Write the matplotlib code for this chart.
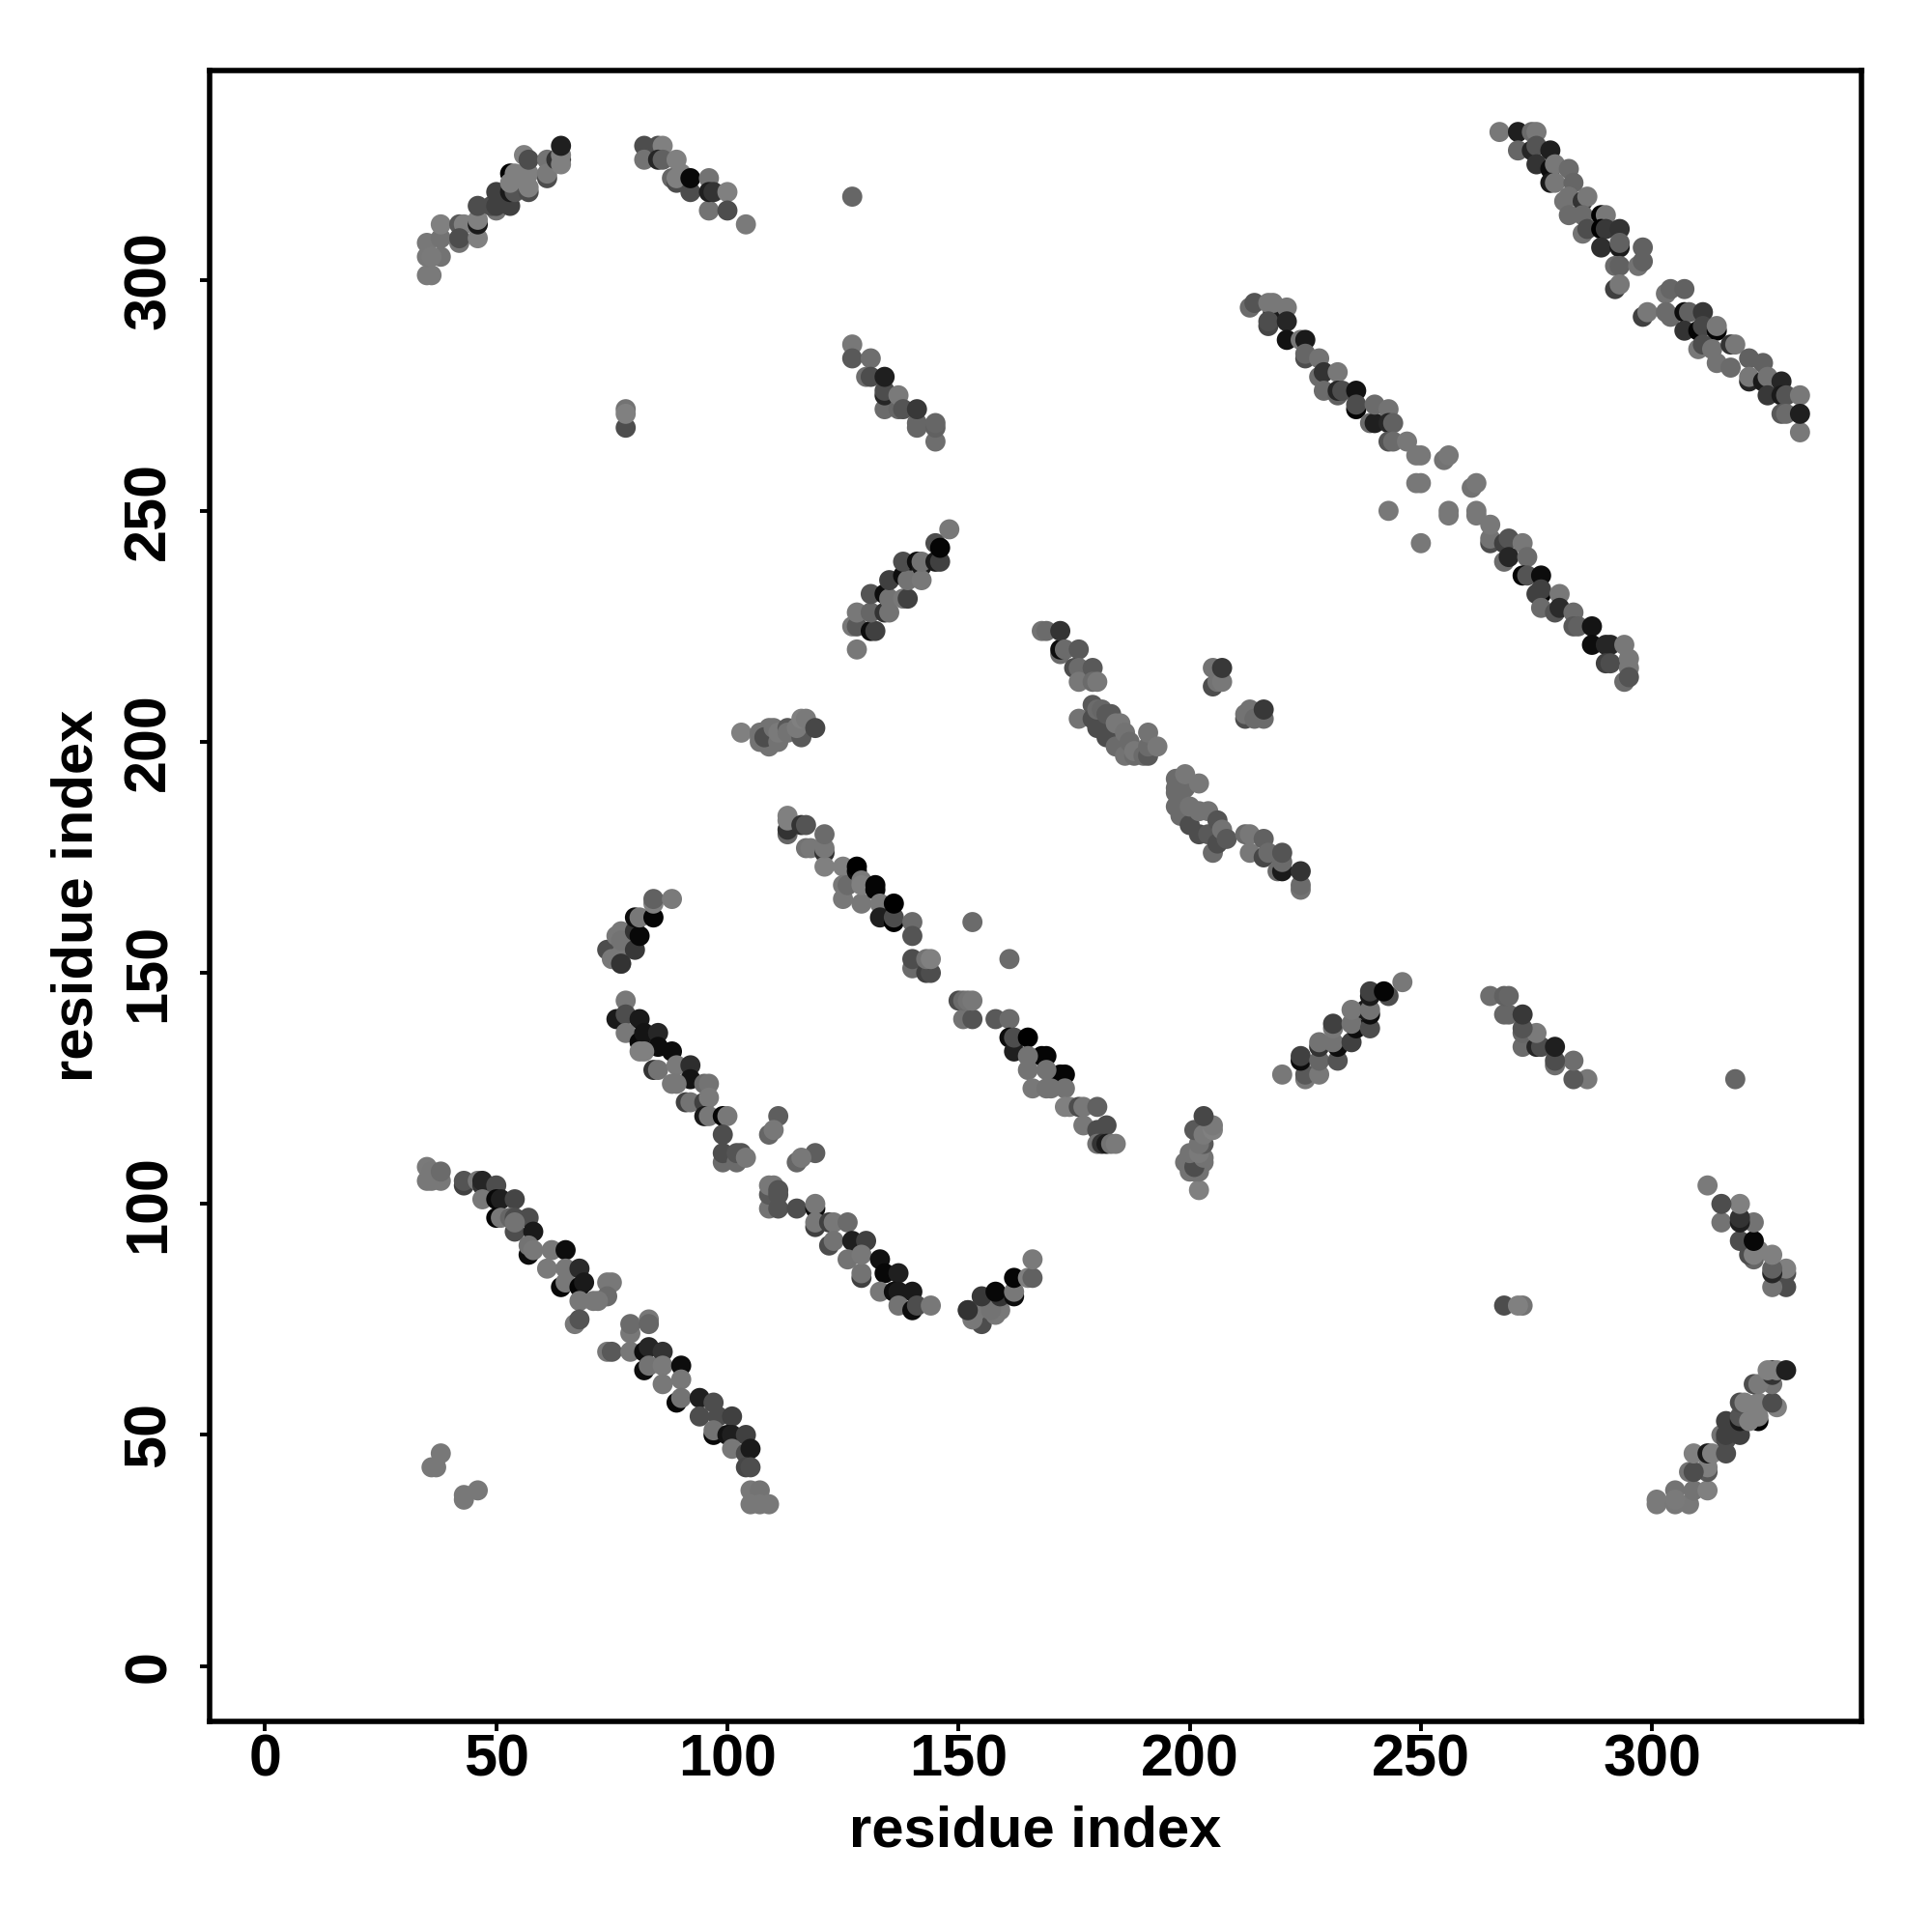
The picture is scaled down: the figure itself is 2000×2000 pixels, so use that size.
import matplotlib
matplotlib.use("Agg")
import matplotlib.pyplot as plt

# contacts as (residue i, residue j, grey level)
# groups that get mirrored across the diagonal
helix_top_left = [
    (35,301,.48),(36,301,.48),(35,305,.47),(35,308,.47),(38,305,.45),(36,305,.48),(38,309,.45),(38,312,.5),
    (42,312,.35),(43,312,.5),(42,308,.45),(42,309,.3),(46,309,.5),(46,312,.1),(46,313,.5),(46,316,.3),
    (50,315,.45),(49,316,.3),(50,316,.25),(53,316,.25),(50,319,.25),(53,319,.1),(54,319,.33),(53,323,.0),
    (53,321,.5),(54,323,.5),(57,319,.3),(57,320,.5),(57,323,.5),(56,323,.5),(56,327,.5),(57,326,.3),
    (61,326,.45),(61,322,.3),(61,323,.48),(63,326,.2),(64,326,.2),(64,325,.5),(64,327,.5),(64,329,.12),
]
strand_top = [
    (82,329,.3),(82,326,.45),(85,329,.3),(86,329,.5),(85,326,.15),(86,326,.38),(88,322,.4),(89,321,.3),
    (89,326,.5),(89,322,.5),(90,323,.5),(92,319,.3),(92,322,.03),(96,322,.45),(96,315,.45),(96,319,.12),
    (97,319,.2),(100,319,.5),(100,315,.3),(104,312,.48),
]
single_contacts = [
    (127,318,.4),(78,268,.3),(78,272,.45),(78,271,.5),(38,46,.47),(36,43,.47),(37,43,.47),
]
strand_mid = [
    (127,286,.47),(127,283,.35),(131,283,.43),(130,279,.43),(131,279,.3),(134,272,.42),(134,275,.15),(134,276,.3),
    (134,279,.12),(137,272,.4),(137,275,.48),(138,272,.33),(141,268,.4),(141,269,.4),(141,272,.22),
    (145,265,.43),(145,268,.38),(145,269,.4),
]
helix_mid = [
    (128,220,.47),(127,225,.47),(128,225,.35),(128,228,.47),(131,224,.05),(132,224,.25),(131,228,.4),(134,228,.2),
    (135,228,.45),(131,232,.33),(134,232,.05),(135,231,.45),(138,231,.47),(139,231,.25),(135,235,.25),(138,236,.05),
    (139,235,.45),(138,239,.3),(141,239,.05),(142,238,.1),(142,235,.47),(142,239,.45),(145,239,.1),(146,239,.25),
    (145,243,.3),(146,242,.02),(148,246,.47),
]
short_run_200 = [
    (103,202,.5),(107,202,.45),(107,201,.45),(107,200,.45),(109,203,.45),(109,199,.45),(108,201,.3),(110,203,.45),
    (111,200,.45),(111,202,.48),(113,203,.35),(113,202,.45),(116,201,.35),(115,203,.48),(116,205,.5),(117,205,.48),
    (119,203,.28),
]
helix_150 = [
    (74,155,.3),(77,152,.45),(75,153,.47),(77,154,.47),(77,152,.2),(76,158,.47),(77,159,.47),(77,157,.45),
    (80,155,.22),(80,159,.2),(81,158,.03),(80,162,.05),(81,162,.47),(84,162,.02),(84,165,.5),(84,166,.38),(88,166,.48),
]

# groups already on both sides of the diagonal
antidiag_113_184 = [
    (113,180,.4),(113,181,.2),(113,183,.5),(113,184,.5),(116,182,.2),(117,177,.45),(118,177,.47),(117,182,.33),
    (121,176,.2),(121,173,.5),(121,177,.47),(121,180,.42),(125,166,.47),(125,173,.5),(125,169,.47),(126,169,.42),
    (128,172,.03),(128,173,.0),(129,165,.47),(129,170,.48),(129,169,.5),(132,168,.02),(132,169,.02),(133,165,.48),
    (133,162,.12),(136,161,.0),(136,162,.3),(136,165,.0),(140,161,.42),(140,158,.33),(140,151,.42),(140,153,.3),
    (143,150,.25),(144,150,.3),(143,153,.45),(144,153,.5),(153,161,.42),(161,153,.42),
    (150,144,.3),(151,140,.45),(153,140,.33),(151,144,.42),(152,144,.45),(153,144,.47),(158,140,.35),(161,140,.42),
    (161,136,.05),(162,133,.12),(162,136,.3),(165,136,.0),(168,132,.0),(169,132,.02),(165,132,.45),(165,129,.45),
    (172,128,.0),(173,128,.02),(169,129,.45),(166,125,.47),(169,125,.45),(170,125,.45),(173,125,.45),
    (173,121,.5),(174,121,.5),(176,121,.3),(177,121,.47),(180,121,.38),(177,117,.47),(182,117,.3),(180,116,.3),
    (180,113,.45),(181,113,.2),(182,113,.1),(183,113,.45),(184,113,.48),
]
antidiag_78_144 = [
    (78,144,.47),(76,140,.1),(78,141,.3),(81,140,.1),(78,137,.47),(81,135,.03),(82,137,.08),(85,137,.15),
    (85,134,.05),(88,133,.05),(81,133,.5),(82,133,.5),(84,129,.2),(85,129,.45),(89,130,.48),(92,130,.18),
    (92,127,.08),(88,126,.47),(89,126,.47),(95,126,.42),(91,122,.25),(92,122,.45),(96,126,.45),(95,122,.25),
    (96,123,.48),(95,119,.1),(96,119,.47),(99,119,.02),(100,119,.47),(99,115,.3),(99,109,.42),(99,111,.3),
    (102,109,.42),(102,111,.33),(103,111,.33),(104,110,.47),(111,119,.37),(109,115,.4),(110,116,.47),(119,111,.37),
    (115,109,.4),(116,110,.47),(109,99,.45),(109,102,.35),(109,104,.47),(110,104,.47),(111,102,.33),(111,103,.33),
    (111,99,.33),(115,99,.3),(119,99,.05),(119,100,.47),(119,95,.25),(119,96,.47),(122,91,.3),(122,96,.25),
    (123,96,.47),(123,92,.45),(126,96,.42),(127,92,.12),(130,92,.25),(126,88,.45),(129,84,.25),(129,85,.45),
    (129,89,.47),(133,88,.07),(134,85,.03),(137,85,.12),(133,81,.47),(136,81,.05),(137,81,.1),(140,81,.1),
    (137,78,.45),(140,77,.05),(141,78,.3),(144,78,.47),
]
antidiag_35_109 = [
    (35,108,.48),(35,105,.47),(36,107,.47),(36,105,.47),(38,105,.47),(38,107,.42),(43,104,.25),(43,105,.33),
    (46,105,.47),(47,104,.2),(47,105,.15),(50,104,.3),(47,101,.47),(50,101,.03),(51,101,.12),(54,101,.27),
    (50,97,.02),(51,97,.47),(54,94,.3),(53,97,.4),(57,97,.3),(54,97,.3),(54,96,.45),(58,94,.1),(57,89,.05),
    (57,91,.45),(58,90,.47),(62,90,.47),(61,86,.48),(65,90,.05),(64,82,.03),(65,83,.47),(65,86,.47),(68,86,.17),
    (68,82,.02),(69,83,.1),(74,83,.47),(75,83,.47),(74,80,.42),(68,79,.47),(71,79,.47),(72,79,.47),(67,74,.47),
    (68,75,.33),(74,68,.47),(75,68,.35),(79,72,.47),(79,74,.42),(83,75,.47),(83,74,.4),(79,68,.47),(82,68,.05),
    (83,69,.15),(86,68,.2),(82,64,.05),(83,65,.45),(86,65,.48),(90,65,.05),(86,61,.47),(90,62,.47),(89,57,.03),
    (90,58,.45),(94,58,.12),(94,54,.3),(97,57,.3),(98,54,.3),(101,54,.25),(97,50,.03),(97,51,.45),(100,50,.07),
    (101,50,.12),(104,50,.25),(101,47,.47),(104,46,.3),(105,47,.1),(104,43,.28),(105,43,.3),(105,38,.47),
    (107,38,.45),(105,35,.47),(107,35,.47),(109,35,.47),
]
antidiag_168_224 = [
    (168,224,.45),(169,224,.42),(172,219,.42),(172,220,.05),(172,224,.2),(173,220,.42),(176,220,.35),(175,216,.3),
    (176,216,.42),(176,213,.47),(179,216,.35),(179,213,.42),(180,213,.47),(176,205,.45),(179,208,.35),(179,205,.3),
    (180,203,.3),(180,207,.42),(181,207,.4),(182,201,.3),(182,206,.35),(183,206,.35),(184,199,.42),(184,204,.47),
    (185,204,.47),(186,197,.45),(186,202,.45),(187,200,.42),(188,197,.42),(188,198,.47),(190,197,.42),(191,197,.35),
    (191,199,.42),(191,202,.45),(193,199,.47),
    (197,186,.42),(197,189,.42),(197,190,.42),(197,192,.42),(198,184,.42),(198,188,.42),(199,190,.42),(199,193,.47),
    (200,182,.3),(200,186,.45),(202,180,.3),(202,185,.45),(202,191,.47),(204,180,.35),(204,185,.45),(205,176,.42),
    (206,178,.3),(206,183,.33),(207,181,.45),(208,179,.35),(212,180,.42),(213,176,.47),(213,180,.47),(216,175,.28),
    (216,179,.38),(217,176,.42),(219,172,.42),(220,172,.1),(220,174,.42),(220,176,.33),(224,168,.45),(224,169,.42),
    (224,172,.2),
    (205,212,.3),(205,216,.45),(206,213,.45),(207,213,.47),(207,216,.22),(212,205,.3),(212,206,.45),(213,207,.45),
    (214,205,.42),(216,205,.42),(216,207,.22),
]
antidiag_213_295 = [
    (213,294,.42),(214,295,.33),(218,293,.1),(217,295,.47),(218,295,.47),(221,294,.47),(217,290,.27),(217,291,.3),
    (221,291,.15),(221,287,.07),(224,287,.47),(225,287,.1),(225,283,.3),(225,284,.4),(228,283,.45),(228,279,.42),
    (229,280,.2),(232,280,.47),(229,276,.42),(232,275,.38),(232,276,.15),(233,276,.3),(236,276,.07),(236,272,.02),
    (236,273,.3),(239,269,.42),(240,269,.12),(240,273,.42),(243,272,.45),(243,269,.15),(244,269,.38),(243,265,.33),
    (244,265,.42),(247,265,.47),(249,262,.47),(250,262,.47),(255,261,.45),(256,262,.47),(249,256,.47),(250,256,.47),
    (261,255,.45),(262,256,.47),(243,250,.47),(256,250,.47),(256,249,.47),(262,250,.47),(262,249,.47),(250,243,.47),
    (265,243,.3),(265,244,.45),(265,247,.47),(268,243,.25),(269,244,.33),(272,243,.47),(268,239,.42),(269,240,.15),
    (273,240,.42),(272,236,.02),(273,236,.33),(276,236,.05),(276,232,.02),(275,232,.25),(276,233,.25),(280,232,.47),
    (276,229,.42),(279,228,.33),(280,229,.17),(283,228,.42),(283,225,.35),(284,225,.38),(287,225,.08),(287,221,.05),
    (290,221,.15),(291,221,.15),(294,221,.47),(290,217,.25),(291,217,.3),(295,216,.47),(295,218,.47),(294,213,.42),
    (295,214,.33),
]
antidiag_267_332 = [
    (267,332,.47),(271,332,.12),(274,332,.42),(275,332,.47),(271,328,.4),(274,328,.15),(275,329,.33),(278,328,.12),
    (275,325,.2),(278,324,.05),(279,325,.47),(282,324,.42),(278,321,.1),(279,321,.47),(283,321,.4),(281,317,.45),
    (282,318,.45),(285,317,.2),(286,318,.47),(282,314,.42),(285,314,.42),(289,314,.0),(290,314,.47),(285,310,.45),
    (286,311,.3),(289,311,.0),(290,311,.22),(293,311,.2),(289,307,.18),(293,307,.1),(293,308,.38),(292,303,.42),
    (293,303,.38),(297,303,.45),(298,307,.38),(298,304,.38),(292,298,.25),(293,299,.47),(298,292,.25),(299,293,.47),
    (303,297,.45),(304,298,.4),(307,298,.38),(303,293,.42),(304,292,.42),(307,293,.05),(308,293,.38),(311,293,.22),
    (307,289,.2),(310,289,.02),(311,290,.28),(314,289,.02),(314,290,.47),(310,285,.47),(311,286,.3),(313,285,.45),
    (314,282,.45),(317,286,.2),(318,286,.47),(317,281,.42),(321,283,.38),(324,282,.38),(321,278,.15),(321,279,.47),
    (324,278,.1),(325,279,.45),(325,275,.22),(328,278,.15),(328,275,.1),(329,275,.33),(332,275,.47),(328,271,.35),
    (329,271,.42),(332,267,.47),(332,271,.12),
]

tick_values = [0, 50, 100, 150, 200, 250, 300]
axis_label = "residue index"

mirrored_groups = [helix_top_left, strand_top, single_contacts, strand_mid, helix_mid, short_run_200, helix_150]
paired_groups = [antidiag_113_184, antidiag_78_144, antidiag_35_109, antidiag_168_224,
                 antidiag_213_295, antidiag_267_332]

plt.rcParams['font.family'] = ['Liberation Sans', 'DejaVu Sans']

xs, ys, greys = [], [], []
for group in mirrored_groups:
    for i, j, g in group:
        xs += [i, j]
        ys += [j, i]
        greys += [g, g]
for group in paired_groups:
    for i, j, g in group:
        xs.append(i)
        ys.append(j)
        greys.append(g)

fig = plt.figure(figsize=(20, 20), dpi=100)
ax = fig.add_axes([217/2000, 1-1782/2000, 1710/2000, 1709/2000])
ax.scatter(xs, ys, s=225, c=[str(g) for g in greys], linewidths=0)

ax.set_xlim(-12, 345.3)
ax.set_ylim(-12, 345.3)
ax.set_xticks(tick_values)
ax.set_yticks(tick_values)
ax.tick_params(length=7, width=2.8, labelsize=44)
ax.tick_params(axis='x', pad=2)
ax.tick_params(axis='y', pad=17)
for lab in ax.get_xticklabels():
    lab.set_fontweight('bold')
for lab in ax.get_yticklabels():
    lab.set_fontweight('bold')
    lab.set_rotation(90)
    lab.set_va('center')
for spine in ax.spines.values():
    spine.set_linewidth(4)

ax.set_xlabel(axis_label, fontsize=43, fontweight='bold', labelpad=12)
ax.set_ylabel(axis_label, fontsize=43, fontweight='bold', labelpad=14)

fig.savefig('out.png', dpi=100)
